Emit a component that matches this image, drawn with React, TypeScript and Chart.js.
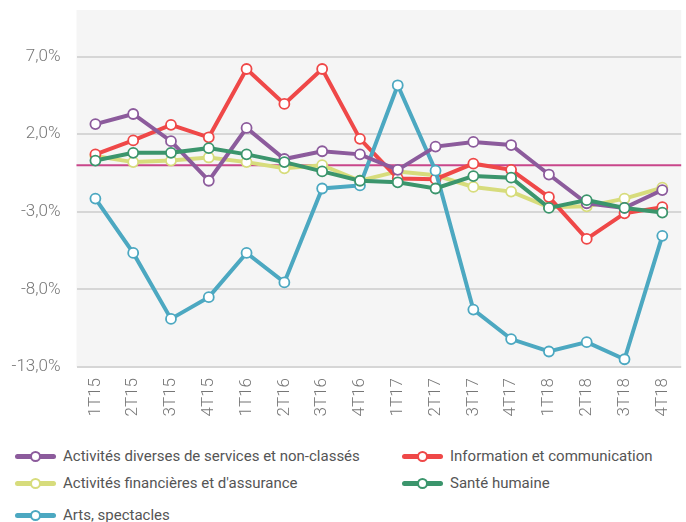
import React, { useEffect, useRef } from "react";
import { Chart, registerables } from "chart.js";

Chart.register(...registerables);

const categories = ["1T15", "2T15", "3T15", "4T15", "1T16", "2T16", "3T16", "4T16", "1T17", "2T17", "3T17", "4T17", "1T18", "2T18", "3T18", "4T18"];

const diversesValues = [2.65, 3.3, 1.55, -1.0, 2.4, 0.4, 0.9, 0.7, -0.3, 1.2, 1.5, 1.3, -0.6, -2.45, -2.75, -1.6];
const infoCommValues = [0.7, 1.6, 2.6, 1.8, 6.2, 3.95, 6.2, 1.7, -0.85, -0.9, 0.1, -0.3, -2.05, -4.75, -3.1, -2.7];
const financieresValues = [0.6, 0.2, 0.3, 0.5, 0.2, -0.2, 0.0, -1.0, -0.4, -0.65, -1.4, -1.7, -2.7, -2.65, -2.15, -1.45];
const santeValues = [0.3, 0.8, 0.8, 1.1, 0.7, 0.2, -0.4, -1.0, -1.1, -1.5, -0.7, -0.8, -2.75, -2.25, -2.75, -3.05];
const artsValues = [-2.15, -5.65, -9.9, -8.5, -5.65, -7.55, -1.5, -1.3, 5.15, -0.35, -9.3, -11.2, -12.0, -11.4, -12.5, -4.55];

const yTicks = [-13, -8, -3, 2, 7];
const yMin = -13;
const yMax = 10;

const seriesNames = [
  "Activités diverses de services et non-classés",
  "Information et communication",
  "Activités financières et d'assurance",
  "Santé humaine",
  "Arts, spectacles",
];
const seriesColors = ["#8c5b9c", "#ef4848", "#d7dc7c", "#3b956c", "#4ca8c1"];
const seriesValues = [diversesValues, infoCommValues, financieresValues, santeValues, artsValues];
const seriesOrder = [1, 3, 4, 0, 2];

const FONT = "Roboto, 'Noto Sans', sans-serif";

const bgPlugin = {
  id: "bgAndZero",
  beforeDraw(chart: any) {
    const { ctx, chartArea } = chart;
    ctx.save();
    ctx.fillStyle = "#f5f5f5";
    ctx.fillRect(chartArea.left, chartArea.top, chartArea.right - chartArea.left, chartArea.bottom - chartArea.top);
    ctx.restore();
  },
  beforeDatasetsDraw(chart: any) {
    const { ctx, chartArea, scales } = chart;
    const y = scales.y.getPixelForValue(0);
    ctx.save();
    ctx.strokeStyle = "#c8468a";
    ctx.lineWidth = 2;
    ctx.beginPath();
    ctx.moveTo(chartArea.left, y);
    ctx.lineTo(chartArea.right, y);
    ctx.stroke();
    ctx.restore();
  },
};

function LegendItem({ name, color, left, top }: { name: string; color: string; left: number; top: number }) {
  return (
    <div style={{ position: "absolute", left, top: top - 11, height: 22, display: "flex", alignItems: "center" }}>
      <div style={{ position: "relative", width: 41, height: 22 }}>
        <div style={{ position: "absolute", left: 0, top: 8.5, width: 41, height: 5, borderRadius: 3, background: color }} />
        <div style={{ position: "absolute", left: 15, top: 5.5, width: 7, height: 7, borderRadius: "50%", background: "#fff", border: `2px solid ${color}` }} />
      </div>
      <span style={{ marginLeft: 7, font: `15px ${FONT}`, color: "#555", whiteSpace: "nowrap" }}>{name}</span>
    </div>
  );
}

export default function App() {
  const canvasRef = useRef<HTMLCanvasElement | null>(null);

  useEffect(() => {
    const canvas = canvasRef.current;
    if (!canvas) return;
    const chart = new Chart(canvas, {
      type: "line",
      data: {
        labels: categories,
        datasets: seriesValues.map((vals, i) => ({
          label: seriesNames[i],
          data: vals,
          borderColor: seriesColors[i],
          backgroundColor: "#ffffff",
          borderWidth: 4,
          pointRadius: 5,
          pointBorderWidth: 1.8,
          pointBackgroundColor: "#ffffff",
          pointBorderColor: seriesColors[i],
          tension: 0,
          fill: false,
          order: seriesOrder[i],
        })),
      },
      options: {
        responsive: false,
        animation: false,
        devicePixelRatio: 1,
        layout: { padding: { top: 10, right: 0, left: 0, bottom: 0 } },
        plugins: { legend: { display: false }, tooltip: { enabled: false } },
        scales: {
          x: {
            type: "category",
            offset: true,
            grid: { display: false, drawTicks: false },
            border: { display: false },
            ticks: {
              maxRotation: 90,
              minRotation: 90,
              padding: 11,
              color: "#777",
              font: { family: FONT, size: 17, weight: "300" },
            },
            afterFit(scale: any) {
              scale.height = 63;
              scale.paddingLeft = 0;
              scale.paddingRight = 0;
            },
          },
          y: {
            min: yMin,
            max: yMax,
            afterBuildTicks(axis: any) {
              axis.ticks = yTicks.map((v) => ({ value: v }));
            },
            grid: { color: "#d6d6d6", lineWidth: 2, drawTicks: false },
            border: { display: false },
            ticks: {
              padding: 16,
              color: "#777",
              font: { family: FONT, size: 17, weight: "300" },
              callback: (v: any) => Number(v).toFixed(1).replace(".", ",") + "%",
            },
            afterFit(scale: any) {
              scale.width = 76.5;
              scale.paddingTop = 0;
              scale.paddingBottom = 0;
            },
          },
        },
      },
      plugins: [bgPlugin],
    });
    return () => chart.destroy();
  }, []);

  return (
    <div style={{ position: "absolute", left: 0, top: 0, width: 686, height: 522, overflow: "hidden", background: "#fff" }}>
      <canvas ref={canvasRef} width={688} height={430} style={{ position: "absolute", left: 0, top: 0, width: 688, height: 430 }} />
      <LegendItem name={seriesNames[0]} color={seriesColors[0]} left={15} top={456} />
      <LegendItem name={seriesNames[1]} color={seriesColors[1]} left={402} top={456} />
      <LegendItem name={seriesNames[2]} color={seriesColors[2]} left={15} top={483} />
      <LegendItem name={seriesNames[3]} color={seriesColors[3]} left={402} top={483} />
      <LegendItem name={seriesNames[4]} color={seriesColors[4]} left={15} top={515} />
    </div>
  );
}
